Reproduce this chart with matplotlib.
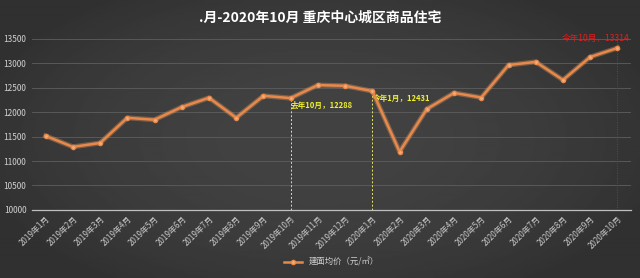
import numpy as np
import matplotlib
matplotlib.use('Agg')
import matplotlib.pyplot as plt

plt.rcParams['font.family'] = ['Noto Sans CJK SC', 'DejaVu Sans']

months = ['2019年1月', '2019年2月', '2019年3月', '2019年4月', '2019年5月', '2019年6月',
          '2019年7月', '2019年8月', '2019年9月', '2019年10月', '2019年11月', '2019年12月',
          '2020年1月', '2020年2月', '2020年3月', '2020年4月', '2020年5月', '2020年6月',
          '2020年7月', '2020年8月', '2020年9月', '2020年10月']
price = [11515, 11290, 11370, 11885, 11845, 12105, 12295, 11885, 12335, 12288, 12555,
         12540, 12431, 11190, 12065, 12395, 12300, 12965, 13030, 12660, 13130, 13314]
yticks = [10000, 10500, 11000, 11500, 12000, 12500, 13000, 13500]

bg = '#3b3b3b'
fig = plt.figure(figsize=(6.4, 2.78), dpi=100, facecolor=bg)

# soft vignette background
bax = fig.add_axes([0, 0, 1, 1], zorder=-10)
gx, gy = np.meshgrid(np.linspace(-1, 1, 320), np.linspace(-1, 1, 140))
r = np.clip(np.sqrt(gx ** 2 * 0.8 + gy ** 2 * 0.6), 0, 1)
bax.imshow(0.26 - 0.07 * r ** 2, cmap='gray', vmin=0, vmax=1, aspect='auto',
           extent=[0, 1, 0, 1])
bax.axis('off')

ax = fig.add_axes([0.05, 0.245, 0.936, 0.615])
ax.patch.set_alpha(0)

x = np.arange(len(months))
# glow under the line
ax.plot(x, price, color='#f0a060', lw=3.6, alpha=0.35, zorder=3)
ax.plot(x, price, color='#e8884a', lw=1.8, marker='o', ms=3,
        mfc='#f2b080', mec='#e8884a', zorder=4, label='建面均价（元/㎡）')

ax.set_xlim(-0.5, len(months) - 0.5)
ax.set_ylim(10000, 13500)
ax.set_yticks(yticks)
ax.set_xticks(x)
ax.set_xticklabels(months, rotation=45, ha='right', rotation_mode='anchor')
ax.tick_params(axis='x', colors='#c8c8c8', labelsize=5.8, length=0, pad=3)
ax.tick_params(axis='y', colors='#d0d0d0', labelsize=6, length=0, pad=4)
ax.yaxis.grid(True, color='#5e5e5e', lw=0.6)
for s in ['top', 'right', 'left']:
    ax.spines[s].set_visible(False)
ax.spines['bottom'].set_color('#bfbfbf')
ax.spines['bottom'].set_linewidth(0.9)

# markers
i1, i2, i3 = 9, 12, 21
ax.vlines([i1, i2], 10000, [price[i1], price[i2]], colors='#e6e66a',
          linestyles=(0, (2, 2)), lw=0.7, zorder=2)
ax.vlines(i3, 10000, 13500, colors='#c02020', linestyles=(0, (1, 1.5)), lw=0.7, zorder=2)
ax.text(i1, price[i1] - 60, '去年10月，%d' % price[i1], color='#f0f030',
        fontsize=5.5, fontweight='bold', va='top', ha='left')
ax.text(i2, price[i2] - 60, '今年1月，%d' % price[i2], color='#f0f030',
        fontsize=5.5, fontweight='bold', va='top', ha='left')
ax.text(i3 + 0.45, price[i3] + 110, '今年10月，%d' % price[i3], color='#e02020',
        fontsize=6.2, va='bottom', ha='right')

fig.text(0.5, 0.935, '.月-2020年10月 重庆中心城区商品住宅', color='white',
         fontsize=10, fontweight='bold', ha='center', va='center')

leg = ax.legend(loc='center', bbox_to_anchor=(0.5, -0.305), frameon=False,
                fontsize=6, handlelength=2.2)
for t in leg.get_texts():
    t.set_color('#d0d0d0')

fig.savefig('out.png', dpi=100, facecolor=bg)
